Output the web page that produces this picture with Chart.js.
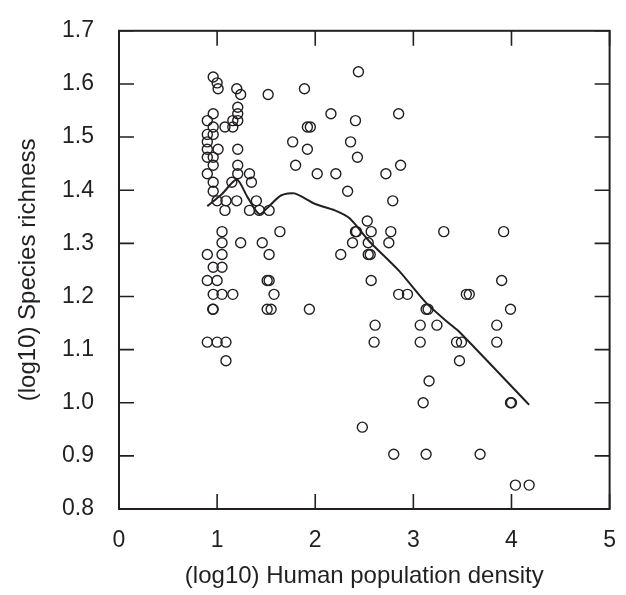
<!DOCTYPE html>
<html>
<head>
<meta charset="utf-8">
<script src="https://cdn.jsdelivr.net/npm/chart.js@4/dist/chart.umd.min.js"></script>
<style>
  html, body { margin: 0; padding: 0; background: #fff; }
  #wrap { width: 626px; height: 595px; }
</style>
</head>
<body>
<div id="wrap"><canvas id="richnessChart" width="626" height="595"></canvas></div>
<script>
// ===== DATA =====
// scatter: log10 human population density vs log10 species richness
const densityX = [
    0.96, 1.00, 1.01, 1.20, 1.24, 1.52, 1.21, 0.96, 1.21, 1.21, 0.90, 1.16, 0.96, 1.08, 1.16, 0.96,
    0.90, 0.90, 1.01, 0.90, 0.96, 0.90, 0.96, 1.21, 1.21, 1.21, 0.90, 0.96, 0.96, 1.15, 1.33, 1.35,
    1.00, 1.09, 1.20, 1.40, 1.08, 1.33, 1.43, 1.53, 1.05, 1.64, 1.05, 1.24, 1.46, 0.90, 1.05, 1.53,
    0.96, 1.05, 0.90, 1.00, 1.51, 1.53, 0.96, 1.05, 1.16, 1.58, 0.96, 0.955, 1.51, 1.55, 0.90, 1.00,
    1.09, 1.09,
    2.44, 1.89, 2.16, 2.85, 2.41, 1.92, 1.95, 1.77, 2.36, 1.92, 2.43, 1.80, 2.87, 2.02, 2.21, 2.72,
    2.33, 2.79, 2.53, 2.41, 2.42, 2.57, 2.77, 3.31, 2.38, 2.54, 2.75, 2.26, 2.54, 2.56, 2.57, 2.85,
    2.94, 1.94, 3.13, 3.15, 2.61, 3.07, 3.24, 2.60, 3.07, 3.16, 3.10, 2.48, 2.80, 3.13,
    3.92, 3.90, 3.54, 3.57, 3.99, 3.85, 3.44, 3.49, 3.85, 3.47, 3.99, 4.00, 3.68, 4.04, 4.18
];
const richnessY = [
    1.613, 1.602, 1.591, 1.591, 1.580, 1.580, 1.556, 1.544, 1.544, 1.531, 1.531, 1.531, 1.519, 1.519, 1.519, 1.505,
    1.505, 1.491, 1.477, 1.477, 1.462, 1.462, 1.447, 1.477, 1.447, 1.431, 1.431, 1.415, 1.398, 1.415, 1.431, 1.415,
    1.380, 1.380, 1.380, 1.380, 1.362, 1.362, 1.362, 1.362, 1.322, 1.322, 1.301, 1.301, 1.301, 1.279, 1.279, 1.279,
    1.255, 1.255, 1.230, 1.230, 1.230, 1.230, 1.204, 1.204, 1.204, 1.204, 1.176, 1.176, 1.176, 1.176, 1.114, 1.114,
    1.114, 1.079,
    1.623, 1.591, 1.544, 1.544, 1.531, 1.519, 1.519, 1.491, 1.491, 1.477, 1.462, 1.447, 1.447, 1.431, 1.431, 1.431,
    1.398, 1.380, 1.342, 1.322, 1.322, 1.322, 1.322, 1.322, 1.301, 1.301, 1.301, 1.279, 1.279, 1.279, 1.230, 1.204,
    1.204, 1.176, 1.176, 1.176, 1.146, 1.146, 1.146, 1.114, 1.114, 1.041, 1.000, 0.954, 0.903, 0.903,
    1.322, 1.230, 1.204, 1.204, 1.176, 1.146, 1.114, 1.114, 1.114, 1.079, 1.000, 1.000, 0.903, 0.845, 0.845
];

// smoothed trend line
const trendX = [0.90, 1.05, 1.20, 1.31, 1.43, 1.53, 1.65, 1.79, 2.00, 2.20, 2.35, 2.55, 2.85, 3.13, 3.36, 3.47, 4.18];
const trendY = [1.370, 1.393, 1.420, 1.387, 1.355, 1.370, 1.390, 1.394, 1.374, 1.362, 1.347, 1.304, 1.249, 1.188, 1.150, 1.133, 0.996];

// axis ticks
const xTickValues = [0, 1, 2, 3, 4, 5];
const yTickValues = [0.8, 0.9, 1.0, 1.1, 1.2, 1.3, 1.4, 1.5, 1.6, 1.7];

const ink = '#231f20';
const tickFont = { family: "'Liberation Sans', Arial, sans-serif", size: 23 };
const titleFont = { family: "'Liberation Sans', Arial, sans-serif", size: 24 };

// ===== FRAME + INWARD TICKS ON ALL FOUR SIDES =====
const frameTicks = {
    id: 'frameTicks',
    afterDraw(chart) {
        const { ctx, chartArea: a, scales: { x, y } } = chart;
        const len = 15;
        ctx.save();
        ctx.strokeStyle = ink;
        ctx.lineWidth = 1.6;
        ctx.beginPath();
        xTickValues.forEach(v => {
            const px = x.getPixelForValue(v);
            ctx.moveTo(px, a.bottom); ctx.lineTo(px, a.bottom - len);
            ctx.moveTo(px, a.top); ctx.lineTo(px, a.top + len);
        });
        yTickValues.forEach(v => {
            const py = y.getPixelForValue(v);
            ctx.moveTo(a.left, py); ctx.lineTo(a.left + len, py);
            ctx.moveTo(a.right, py); ctx.lineTo(a.right - len, py);
        });
        ctx.stroke();
        ctx.lineWidth = 2;
        ctx.strokeRect(a.left, a.top, a.right - a.left, a.bottom - a.top);
        ctx.restore();
    }
};

const scatterPoints = densityX.map((v, i) => ({ x: v, y: richnessY[i] }));
const trendPoints = trendX.map((v, i) => ({ x: v, y: trendY[i] }));

new Chart(document.getElementById('richnessChart'), {
    type: 'scatter',
    data: {
        datasets: [
            {
                type: 'line',
                data: trendPoints,
                borderColor: ink,
                borderWidth: 2,
                pointRadius: 0,
                tension: 0.25,
                fill: false
            },
            {
                data: scatterPoints,
                pointStyle: 'circle',
                pointRadius: 5,
                pointBorderWidth: 1.4,
                borderColor: ink,
                backgroundColor: 'rgba(0,0,0,0)'
            }
        ]
    },
    options: {
        responsive: false,
        animation: false,
        layout: { padding: { left: 0, right: 15, top: 17, bottom: 0 } },
        plugins: {
            legend: { display: false },
            tooltip: { enabled: false }
        },
        scales: {
            x: {
                type: 'linear',
                min: 0,
                max: 5,
                afterBuildTicks: s => { s.ticks = xTickValues.map(v => ({ value: v })); },
                afterFit: s => { s.height = 86; },
                grid: { display: false },
                border: { display: false },
                ticks: {
                    color: ink,
                    font: tickFont,
                    padding: 10,
                    maxRotation: 0,
                    callback: v => String(v)
                },
                title: {
                    display: true,
                    text: '(log10) Human population density',
                    color: ink,
                    font: titleFont,
                    padding: { top: 0, bottom: 4 }
                }
            },
            y: {
                type: 'linear',
                min: 0.8,
                max: 1.7,
                afterBuildTicks: s => { s.ticks = yTickValues.map(v => ({ value: v })); },
                afterFit: s => { s.width = 119; },
                grid: { display: false },
                border: { display: false },
                ticks: {
                    color: ink,
                    font: tickFont,
                    padding: 17,
                    callback: v => Number(v).toFixed(1)
                },
                title: {
                    display: true,
                    text: '(log10) Species richness',
                    color: ink,
                    font: titleFont,
                    padding: { top: 14, bottom: 0 }
                }
            }
        }
    },
    plugins: [frameTicks]
});
</script>
</body>
</html>
